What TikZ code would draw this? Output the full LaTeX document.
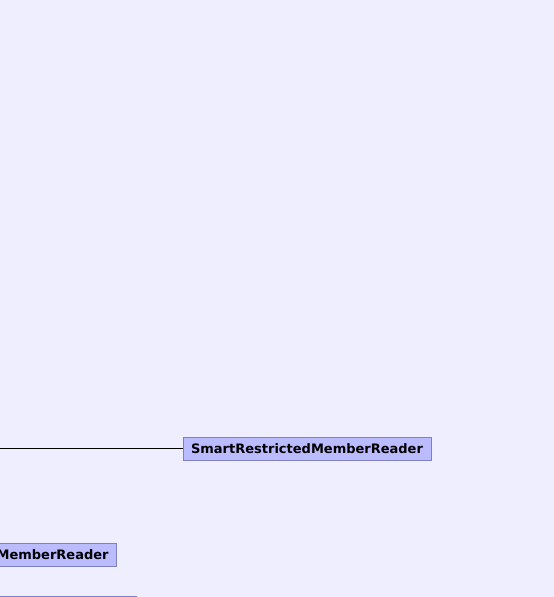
\documentclass[tikz,border=0pt]{standalone}
\usepackage{fontspec}
\setmainfont{DejaVu Sans}
\usetikzlibrary{positioning}
\definecolor{pagebg}{HTML}{EEEEFF}
\definecolor{classfill}{HTML}{BBBBFF}
\definecolor{classline}{HTML}{8080C0}
\tikzset{
  classbox/.style={draw=classline, fill=classfill, rectangle, font=\bfseries\fontsize{13}{15}\selectfont,
    inner xsep=8pt, inner ysep=0pt, minimum height=23pt, line width=0.8pt}
}
\begin{document}
\begin{tikzpicture}[x=1pt, y=-1pt]
  \fill[pagebg] (0,0) rectangle (554,597);
  \useasboundingbox (0,0) rectangle (554,597);

  \node[classbox] (smart) at (307,448.5) {SmartRestrictedMemberReader};
  \coordinate (smartin) at (0,448.5);
  \draw[line width=1pt] (smartin) -- (smart);

  \node[classbox, anchor=east] (member) at (117,554.5) {MemberReader};

  \node[classbox, anchor=north east, minimum width=160pt] (lower) at (137,595.5) {};
\end{tikzpicture}
\end{document}
